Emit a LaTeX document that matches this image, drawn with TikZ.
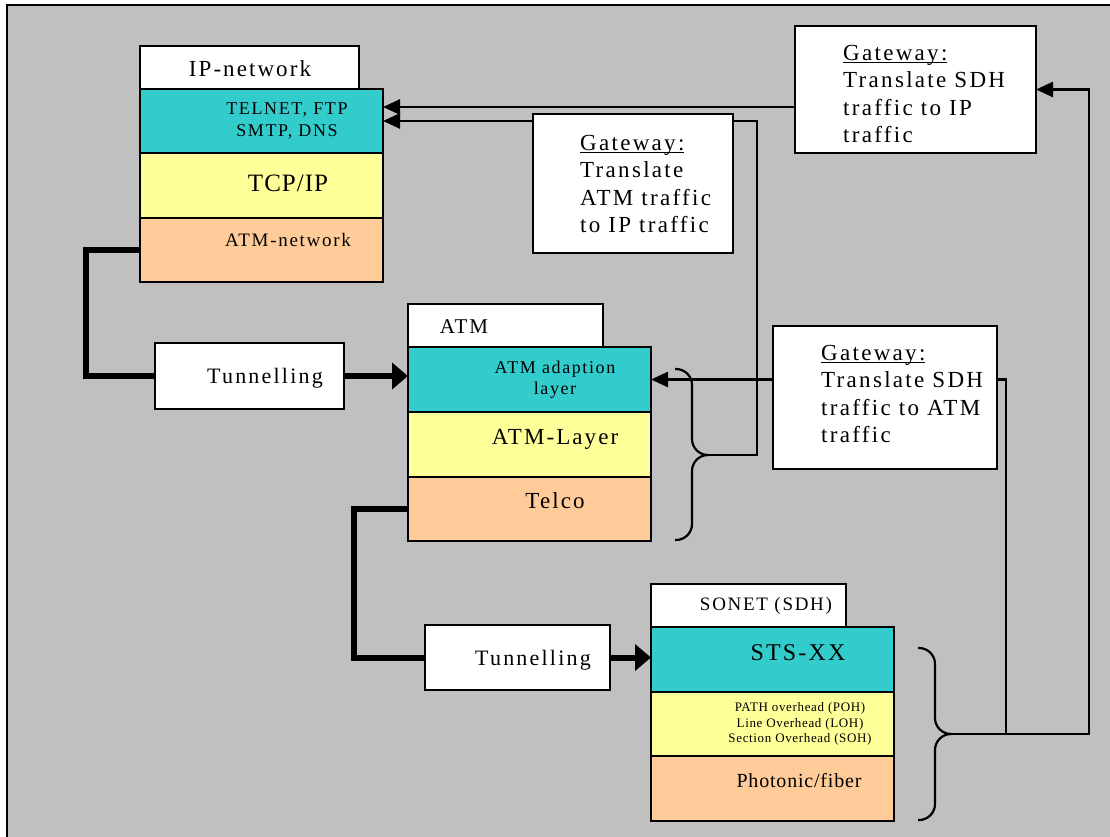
\documentclass[tikz,border=0pt]{standalone}
\usepackage{fontspec}
\setmainfont{Liberation Serif}[LetterSpace=9]
\usetikzlibrary{arrows.meta,calc}
\definecolor{panel}{HTML}{C0C0C0}
\definecolor{appteal}{HTML}{33CCCC}
\definecolor{midyellow}{HTML}{FFFF99}
\definecolor{lowpeach}{HTML}{FFCC99}
\newcommand\fsz[2]{\fontsize{#1}{#2}\selectfont}
\newcommand\track[1]{\addfontfeature{LetterSpace=#1}}
% underlined heading with a thin rule just below the baseline
\newcommand\gwhead[1]{\setbox0\hbox{#1}\rlap{\rule[-3pt]{\wd0}{1.1pt}}\box0}

\tikzset{
  box/.style={draw=black, line width=2pt, anchor=north west, inner sep=0pt, outer sep=0pt},
  whitebox/.style={box, fill=white},
  tealbox/.style={box, fill=appteal},
  yellowbox/.style={box, fill=midyellow},
  peachbox/.style={box, fill=lowpeach},
  txt/.style={inner sep=0pt, align=center},
  gwtxt/.style={inner sep=0pt, align=left, anchor=west, font=\fsz{23}{27.5}\track{10}},
  conn/.style={line width=2.6pt},
  connarrow/.style={conn, -{Triangle[length=17pt,width=15pt]}},
  fat/.style={line width=6pt},
  fatarrow/.style={fat, -{Triangle[length=16pt,width=26pt]}},
  bracket/.style={line width=2.2pt, rounded corners=16pt}
}

\begin{document}
\begin{tikzpicture}[x=1pt,y=-1pt]
  \useasboundingbox (0,0) rectangle (1110,837);
  \fill[white] (0,0) rectangle (1110,837);
  \clip (0,0) rectangle (1110,837);
  \draw[line width=2pt, fill=panel] (7,5) rectangle (1130,860);

  % IP-network stack
  \node[whitebox, minimum width=219pt, minimum height=43pt] (iplabel) at (140,46) {};
  \node[tealbox, minimum width=243pt, minimum height=64pt] (ipapp) at (140,89) {};
  \node[yellowbox, minimum width=243pt, minimum height=65pt] (iptcp) at (140,153) {};
  \node[peachbox, minimum width=243pt, minimum height=64pt] (ipatm) at (140,218) {};
  \node[txt, font=\fsz{23}{27}] (tiplabel) at (250,69) {IP-network};
  \node[txt, font=\fsz{18}{22}] (tipapp) at (287,121) {TELNET, FTP\\SMTP, DNS};
  \node[txt, font=\fsz{25}{30}\track{4}] (tiptcp) at (288,183) {TCP/IP};
  \node[txt, font=\fsz{19}{22}] (tipatm) at (288,240) {ATM-network};

  % ATM stack
  \node[whitebox, minimum width=195pt, minimum height=43pt] (atmlabel) at (408,304) {};
  \node[tealbox, minimum width=243pt, minimum height=65pt] (atmaal) at (408,347) {};
  \node[yellowbox, minimum width=243pt, minimum height=65pt] (atmlayer) at (408,412) {};
  \node[peachbox, minimum width=243pt, minimum height=64pt] (telco) at (408,477) {};
  \node[txt, font=\fsz{21}{26}] (tatmlabel) at (464,327) {ATM};
  \node[txt, font=\fsz{18}{21}] (tatmaal) at (555,380) {ATM adaption\\layer};
  \node[txt, font=\fsz{23}{26}] (tatmlayer) at (555,439) {ATM-Layer};
  \node[txt, font=\fsz{23}{26}] (ttelco) at (555,501) {Telco};

  % SONET (SDH) stack
  \node[whitebox, minimum width=195pt, minimum height=43pt] (sdhlabel) at (651,584) {};
  \node[tealbox, minimum width=243pt, minimum height=65pt] (sts) at (651,627) {};
  \node[yellowbox, minimum width=243pt, minimum height=64pt] (poh) at (651,692) {};
  \node[peachbox, minimum width=243pt, minimum height=65pt] (phot) at (651,756) {};
  \node[txt, font=\fsz{19}{22}] (tsdhlabel) at (766,606) {SONET (SDH)};
  \node[txt, font=\fsz{24}{29}] (tsts) at (798,653) {STS-XX};
  \node[txt, font=\fsz{13}{15.5}\track{5}] (tpoh) at (800,724) {PATH overhead (POH)\\Line Overhead (LOH)\\Section Overhead (SOH)};
  \node[txt, font=\fsz{20}{24}\track{4}] (tphot) at (799,781) {Photonic/fiber};

  % Tunnelling boxes
  \node[whitebox, minimum width=189pt, minimum height=66pt] (tun1) at (155,343) {};
  \node[whitebox, minimum width=185pt, minimum height=65pt] (tun2) at (425,625) {};
  \node[txt, font=\fsz{22}{26}\track{10}] (ttun1) at (265,378) {Tunnelling};
  \node[txt, font=\fsz{22}{26}\track{10}] (ttun2) at (533,660) {Tunnelling};

  % Braces beside the ATM and SONET stacks
  \coordinate (braceA) at (707,455);
  \coordinate (braceB) at (950,734);
  \draw[bracket] (675,369) -- (692,369) -- (692,455) -- (braceA);
  \draw[bracket] (braceA) -- (692,455) -- (692,540) -- (675,540);
  \draw[bracket] (918,648) -- (935,648) -- (935,734) -- (braceB);
  \draw[bracket] (braceB) -- (935,734) -- (935,820) -- (918,820);

  % Gateways at the ends of the connectors
  \node[whitebox, minimum width=241pt, minimum height=127pt] (gwA) at (795,26) {};
  \node[whitebox, minimum width=224pt, minimum height=143pt] (gwC) at (773,326) {};

  % ATM brace to the application layer, running behind the ATM/IP gateway
  \draw[connarrow] (braceA) -| (757,121) -- (ipapp.east |- 0,121);
  \node[whitebox, minimum width=200pt, minimum height=139pt] (gwB) at (533,114) {};

  \node[gwtxt] (tgwA) at (843,94) {\gwhead{Gateway:}\\Translate SDH\\traffic to IP\\traffic};
  \node[gwtxt] (tgwB) at (580,184) {\gwhead{Gateway:}\\Translate\\ATM traffic\\to IP traffic};
  \node[gwtxt] (tgwC) at (821,394) {\gwhead{Gateway:}\\Translate SDH\\traffic to ATM\\traffic};

  % Thin connectors
  \draw[connarrow] (gwA.west |- 0,107) -- (ipapp.east |- 0,107);
  \draw[connarrow] (gwC.west |- atmaal.east) -- (atmaal.east);
  \draw[conn] (gwC.east |- atmaal.east) -| (braceB -| 1006,0);
  \draw[connarrow] (braceB) -| ($(gwA.east)+(53,0)$) -- (gwA.east);

  % Tunnelling connectors
  \draw[fat] (ipatm.west) -- ++(-54,0) |- (tun1.west);
  \draw[fatarrow] (tun1.east) -- (atmaal.west |- tun1.east);
  \draw[fat] (telco.west) -- ++(-54,0) |- (tun2.west);
  \draw[fatarrow] (tun2.east) -- (sts.west |- tun2.east);
\end{tikzpicture}
\end{document}
